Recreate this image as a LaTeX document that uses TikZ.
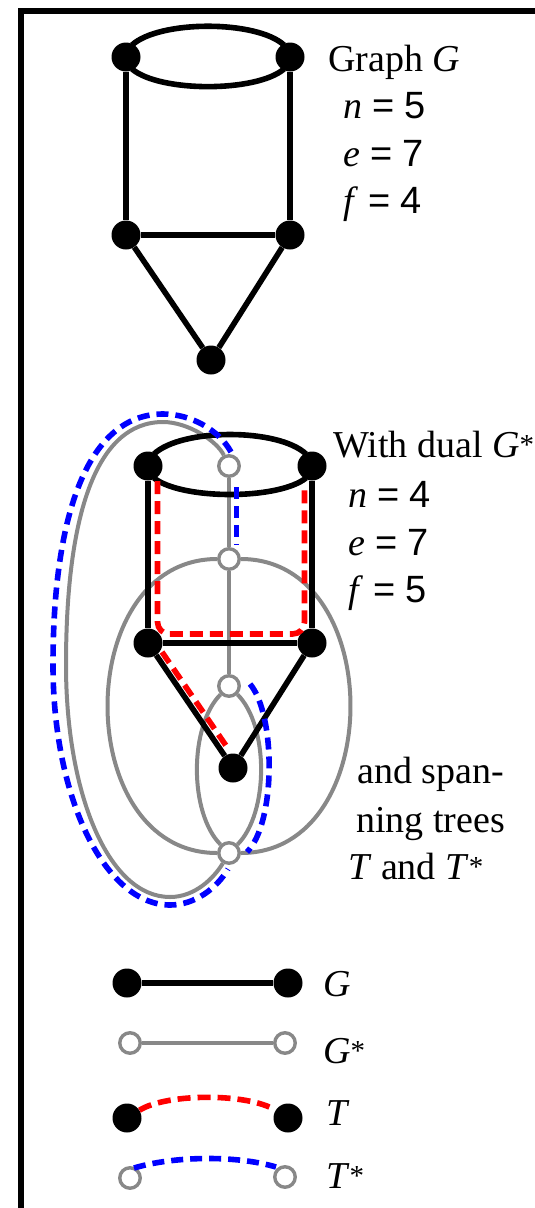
\documentclass[tikz,border=0pt]{standalone}
\usepackage{fontspec}
\setmainfont{Liberation Serif}
\newfontfamily\numfont{Liberation Sans}
\usetikzlibrary{calc}
\definecolor{dgray}{RGB}{136,136,136}
\newcommand\eqn[2]{\textit{#1}\hspace{0.27em}{\numfont=\hspace{0.27em}#2}}
\newcommand\st{\raisebox{3pt}{\fontsize{29}{29}\selectfont *}}
\tikzset{
  gv/.style={circle, fill=black, inner sep=0pt, minimum size=29pt},
  dv/.style={circle, draw=dgray, fill=white, line width=3.4pt, inner sep=0pt, minimum size=20.5pt},
  gedge/.style={line width=5.6pt, black},
  dedge/.style={line width=4pt, dgray},
  tedge/.style={line width=5.6pt, red, dash pattern=on 13pt off 7pt},
  tsedge/.style={line width=5.6pt, blue, dash pattern=on 12pt off 7pt},
  lbl/.style={anchor=base west, inner sep=0pt, font=\fontsize{38}{42}\selectfont},
}
\begin{document}
\begin{tikzpicture}[x=1pt, y=-1pt]
\useasboundingbox (0,0) rectangle (535,1208);
\fill[white] (0,0) rectangle (535,1208);
% frame
\draw[line width=6pt] (20.5,1260) -- (20.5,10.5) -- (580,10.5);

% ---------- top graph G ----------
\node[gv] (a1) at (126,57) {};
\node[gv] (a2) at (290,57) {};
\node[gv] (a3) at (126,235) {};
\node[gv] (a4) at (290,235) {};
\node[gv] (a5) at (211,360) {};
\draw[gedge] ($(a1)+(6,-12)$) .. controls +(27.6,-25) and +(-27.6,-25) .. ($(a2)+(-6,-12)$);
\draw[gedge] ($(a1)+(6,12)$) .. controls +(27.6,23.5) and +(-27.6,23.5) .. ($(a2)+(-6,12)$);
\draw[gedge] (a1) -- (a3);
\draw[gedge] (a2) -- (a4);
\draw[gedge] (a3) -- (a4);
\draw[gedge] (a3) -- (a5);
\draw[gedge] (a4) -- (a5);

\node[lbl] (lab1) at (328,71) {Graph \textit{G}};
\node[lbl] (lab2) at (343,118) {\eqn{n}{5}};
\node[lbl] (lab3) at (343,166) {\eqn{e}{7}};
\node[lbl] (lab4) at (343,213) {\eqn{f}{4}};

% ---------- middle: G with dual ----------
\node[gv] (b1) at (148,466) {};
\node[gv] (b2) at (312,466) {};
\node[gv] (b3) at (148,643) {};
\node[gv] (b4) at (312,643) {};
\node[gv] (b5) at (233,768) {};
\node[dv] (g1) at (229,466) {};
\node[dv] (g2) at (229,559) {};
\node[dv] (g3) at (229,686) {};
\node[dv] (g4) at (229,853) {};
\coordinate (lpT) at (163,422);
\coordinate (lpL) at (66,665);
\coordinate (lpB) at (170,897);

% dual edges
\draw[dedge] (g1) -- (g2);
\draw[dedge] (g2) -- (g3);
\draw[dedge] (g3) .. controls +(-40,40) and +(-40,-40) .. (g4);
\draw[dedge] (g3) .. controls +(40,40) and +(40,-40) .. (g4);
\draw[dedge] (g2) .. controls +(-158,0) and +(-158,0) .. (g4);
\draw[dedge] (g2) .. controls +(158,0) and +(158,0) .. (g4);
\draw[dedge] (g1) .. controls +(-12,-25) and (188,422) .. (lpT)
  .. controls (96,422) and (66,515) .. (lpL)
  .. controls (66,793) and (108,897) .. (lpB)
  .. controls (195,897) and +(-15,25) .. (g4);

% primal edges
\draw[gedge] ($(b1)+(6,-12)$) .. controls +(27.6,-26) and +(-27.6,-26) .. ($(b2)+(-6,-12)$);
\draw[gedge] ($(b1)+(6,12)$) .. controls +(27.6,22) and +(-27.6,22) .. ($(b2)+(-6,12)$);
\draw[gedge] (b1) -- (b3);
\draw[gedge] (b2) -- (b4);
\draw[gedge] (b3) -- (b4);
\draw[gedge] (b3) -- (b5);
\draw[gedge] (b4) -- (b5);

% spanning tree T
\draw[tedge, rounded corners=12pt] ($(b1)+(9.5,15)$) -- ($(b3)+(9.5,-9)$) -- ($(b4)+(-7.5,-9)$) -- ($(b2)+(-7.5,19)$);
\draw[tedge] ($(b3)+(14,9)$) -- ($(b5)+(-4,-18)$);

% spanning tree T*
\draw[tsedge] ($(g1)+(7.5,21)$) -- ($(g2)+(7.5,-14)$);
\draw[tsedge] ($(g3)+(21,-2)$) .. controls ($(g3)+(47,29)$) and ($(g4)+(47,-30)$) .. ($(g4)+(18,-1)$);
\draw[tsedge] ($(g1)+(2,-14)$) .. controls +(-12,-22) and (191,414) .. (163,414)
  .. controls (90,414) and (53,510) .. (53,665)
  .. controls (53,800) and (106,905) .. (170,905)
  .. controls (195,905) and (217,888) .. ($(g4)+(-1,16)$);

\node[lbl] (lab5) at (333,457) {With dual \textit{G}\st};
\node[lbl] (lab6) at (348,507) {\eqn{n}{4}};
\node[lbl] (lab7) at (348,555) {\eqn{e}{7}};
\node[lbl] (lab8) at (348,602) {\eqn{f}{5}};
\node[lbl] (lab9) at (357,783) {and span-};
\node[lbl] (lab10) at (356,832) {ning trees};
\node[lbl] (lab11) at (348,879) {\textit{T} and \textit{T}\st};

% ---------- legend ----------
\node[gv] (lg1) at (127,983) {};
\node[gv] (lg2) at (288,983) {};
\draw[gedge] (lg1) -- (lg2);
\node[lbl] (lab12) at (323,996) {\textit{G}};

\node[dv] (ld1) at (130,1043) {};
\node[dv] (ld2) at (285,1043) {};
\draw[dedge] (ld1) -- (ld2);
\node[lbl] (lab13) at (323,1063) {\textit{G}\st};

\node[gv] (lt1) at (127,1118) {};
\node[gv] (lt2) at (288,1118) {};
\draw[tedge] (lt1) .. controls +(40,-25) and +(-40,-25) .. (lt2);
\node[lbl] (lab14) at (326,1125) {\textit{T}};

\node[dv] (ls1) at (130,1178) {};
\node[dv] (ls2) at (285,1177) {};
\draw[tsedge] ($(ls1)+(4,-10)$) .. controls +(40,-12) and +(-40,-12) .. ($(ls2)+(-9,-10)$);
\node[lbl] (lab15) at (326,1188) {\textit{T}\st};
\end{tikzpicture}
\end{document}
